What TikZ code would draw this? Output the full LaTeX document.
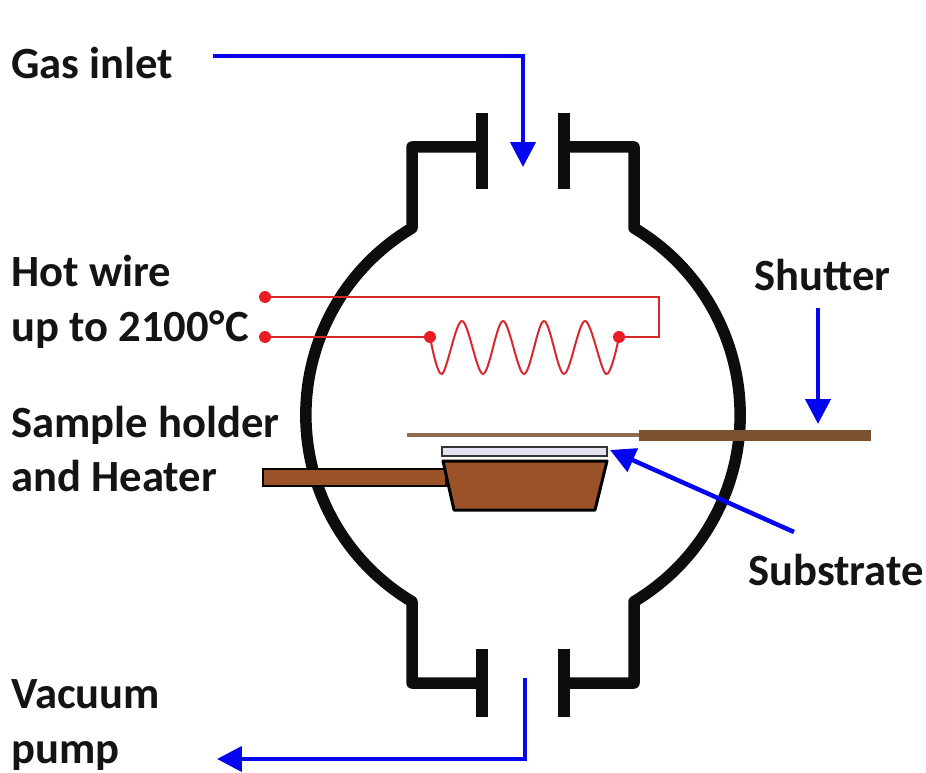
\documentclass[tikz,border=0pt]{standalone}
\usepackage{fontspec}
\setmainfont{Carlito}
\usepackage{tikz}
\usetikzlibrary{arrows.meta}
\definecolor{cvdblue}{HTML}{0505F0}
\definecolor{cvdred}{HTML}{D8282E}
\definecolor{cvddot}{HTML}{EC1C24}
\definecolor{cvdcopper}{HTML}{9C5228}
\definecolor{cvdshutter}{HTML}{7A5232}
\definecolor{cvdwafer}{HTML}{E4E4F2}
\tikzset{
  wall/.style={line width=0.23cm,black!95,line join=round},
  gasflow/.style={line width=0.09cm,cvdblue,-{Triangle[length=0.5cm,width=0.5cm]}},
  wire/.style={line width=0.045cm,cvdred},
  wiredot/.style={circle,fill=cvddot,inner sep=0pt,minimum size=0.24cm},
  lbl/.style={font=\fontsize{25.4}{31}\selectfont\bfseries,text=black!92,align=left,anchor=west,inner sep=0pt},
}
\begin{document}
\begin{tikzpicture}[x=0.02cm,y=-0.02cm]
    \useasboundingbox(0,0)rectangle(926,773);
    % chamber
    \draw[wall](482,147)-|(412,228)arc[start angle=239.2,end angle=120.8,radius=217.5]|-(482,683);
    \draw[wall](564,147)-|(634,228)arc[start angle=-59.2,end angle=59.2,radius=217.5]|-(564,683);
    \foreach \x in {482,564}{\draw[wall,line cap=butt](\x,113)--(\x,189);\draw[wall,line cap=butt](\x,649)--(\x,717);}
    % holder
    \draw[line width=0.05cm,fill=cvdcopper](263,469)rectangle(446,486);
    \draw[line width=0.06cm,fill=cvdcopper,line join=round](443,461)--(607,461)--(595,510)--(454,510)--cycle;
    \draw[line width=0.05cm,black!80,fill=cvdwafer](442,447)rectangle(607,456);
    % shutter
    \draw[line width=0.07cm,cvdshutter!85!white](407,435)--(640,435);
    \fill[cvdshutter](639,430)rectangle(871,441);
    % hot wire
    \node[wiredot](dottop)at(265,297){};
    \node[wiredot](dotlow)at(265,337){};
    \node[wiredot](dotcoila)at(430,337){};
    \node[wiredot](dotcoilb)at(619,337){};
    \coordinate(wirecorner)at(659,297);
    \draw[wire](dottop)--(wirecorner)|-(dotcoilb);
    \draw[wire](dotlow)--(dotcoila);
    \draw[wire,line width=0.04cm]plot[smooth,tension=0.55]coordinates{(430,337)(442,374)(462,321)(483,374)(503,321)(524,374)(544,321)(564,374)(585,321)(606,374)(619,337)};
    % labels
    \node[lbl](gaslbl)at(11,63){Gas inlet};
    \node[lbl](wirelbl)at(11,302){Hot wire\\up to 2100°\kern0.8pt C};
    \node[lbl](holderlbl)at(11,449){Sample holder\\and Heater};
    \node[lbl](shutterlbl)at(754,275){Shutter};
    \node[lbl](substratelbl)at(748,570){Substrate};
    \node[lbl](pumplbl)at(11,725){Vacuum\\pump};
    % flows
    \coordinate(gasstart)at(213,56);\coordinate(gasend)at(523,167);
    \draw[gasflow](gasstart)-|(gasend);
    \coordinate(shutterstart)at(818,308);\coordinate(shutterend)at(818,424);
    \draw[gasflow](shutterstart)--(shutterend);
    \coordinate(substart)at(794,532);\coordinate(subend)at(610,450);
    \draw[gasflow](substart)--(subend);
    \coordinate(pumpstart)at(525,678);\coordinate(pumpend)at(217,759);
    \draw[gasflow](pumpstart)|-(pumpend);
\end{tikzpicture}
\end{document}
